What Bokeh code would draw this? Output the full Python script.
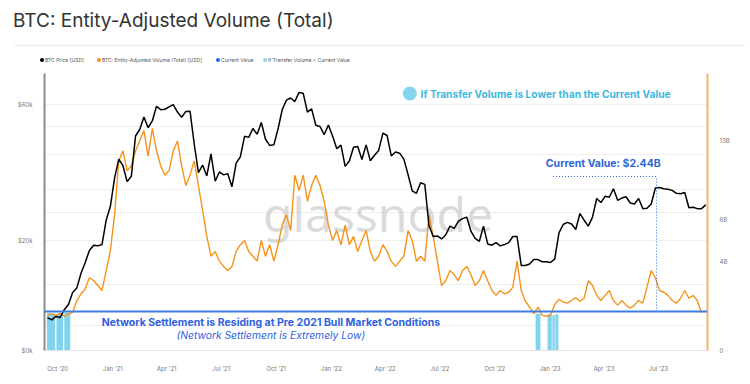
import pandas as pd
from bokeh.plotting import figure
from bokeh.layouts import column
from bokeh.models import (Range1d, LogScale, LogAxis, FixedTicker, MonthsTicker,
                          DatetimeTickFormatter, Span, Label, Div)
from bokeh.embed import file_html
from bokeh.resources import INLINE

# ---------------- data (weekly samples) ----------------
week_start = "2020-09-14"
btc_price_k = [
    10.7, 10.5, 10.8, 10.7, 11.4, 11.9, 13.1, 13.6, 15.3, 16.7, 18.4,
    19.2, 19.1, 19.3, 23.5, 26.3, 33.0, 38.5, 36.5, 32.1, 33.5,
    46.4, 48.9, 54.1, 49.6, 52.4, 59.0, 57.4, 57.6, 58.7, 59.8,
    56.3, 54.0, 56.6, 56.7, 43.5, 34.5, 36.7, 33.6, 40.2, 32.2,
    34.7, 33.9, 34.2, 30.8, 37.3, 39.2, 46.3, 45.9, 49.3, 47.1,
    51.8, 45.2, 43.0, 43.2, 49.2, 57.5, 62.0, 63.1, 61.3, 66.0,
    65.5, 56.3, 57.8, 50.6, 50.1, 46.9, 50.7, 46.4, 41.9, 43.1,
    36.3, 37.9, 42.4, 42.6, 38.4, 43.2, 38.0, 39.7, 41.3, 47.5,
    46.6, 39.5, 40.8, 40.4, 38.5, 34.0, 29.8, 29.2, 31.8, 31.4,
    22.5, 20.6, 20.7, 20.2, 20.9, 22.4, 22.0, 23.3, 23.8, 24.1,
    21.5, 20.3, 19.8, 22.4, 19.4, 19.2, 19.6, 19.1, 19.3, 19.6,
    20.6, 20.6, 16.3, 16.3, 16.5, 17.1, 17.1, 16.8, 16.8, 16.7,
    17.2, 21.2, 22.7, 23.1, 22.8, 21.8, 24.8, 23.5, 22.4, 24.1,
    28.0, 27.1, 28.5, 28.3, 30.3, 27.6, 28.1, 28.4, 27.0, 26.8,
    28.0, 25.8, 25.9, 26.8, 30.5, 30.6, 30.3, 30.2, 29.9, 29.2,
    29.1, 29.4, 26.0, 26.1, 25.8, 25.8, 26.6,
]
volume_b = [
    2.36, 2.38, 2.35, 2.40, 2.33, 2.38, 2.42, 2.72, 2.90, 3.05, 3.40,
    3.31, 3.15, 3.00, 3.65, 4.43, 6.30, 10.7, 11.8, 9.7, 10.2,
    11.8, 13.0, 14.4, 11.2, 14.7, 11.8, 10.2, 9.3, 9.7, 11.8,
    13.0, 10.2, 8.4, 9.3, 10.7, 8.4, 6.6, 5.1, 4.2, 4.4,
    4.0, 3.8, 3.65, 3.8, 4.4, 4.7, 4.9, 4.4, 4.2, 4.0,
    4.9, 4.2, 4.7, 4.0, 4.7, 5.7, 6.3, 5.4, 9.3, 8.0,
    9.3, 7.2, 8.4, 9.3, 8.4, 7.2, 5.7, 4.9, 5.4, 4.7,
    5.7, 4.7, 5.1, 4.4, 4.9, 5.4, 4.4, 4.0, 4.2, 4.7,
    4.4, 4.0, 3.8, 4.0, 4.2, 5.4, 4.9, 4.0, 4.2, 4.0,
    6.3, 5.1, 4.0, 3.15, 3.3, 3.65, 3.5, 3.3, 3.65, 3.8,
    3.5, 3.15, 3.3, 3.65, 3.3, 3.0, 2.86, 3.0, 2.90, 2.95,
    3.1, 4.0, 3.0, 2.70, 2.55, 2.39, 2.55, 2.35, 2.33, 2.36,
    2.62, 2.75, 2.68, 2.65, 2.72, 2.80, 2.70, 2.78, 3.3, 3.15,
    2.86, 2.72, 2.86, 3.0, 2.72, 2.6, 2.72, 2.6, 2.52, 2.6,
    2.72, 2.65, 3.1, 3.65, 3.4, 3.0, 2.95, 2.86, 2.72, 2.65,
    2.78, 3.0, 2.78, 2.86, 2.72, 2.41,
]
current_value_b = 2.44
current_value_date = "2023-06-28"

# periods where transfer volume < current value
low_start = ["2020-09-13", "2020-09-29", "2020-10-12", "2022-12-08", "2022-12-28",
             "2023-01-05", "2023-01-10"]
low_end = ["2020-09-27", "2020-10-10", "2020-10-22", "2022-12-16", "2023-01-04",
           "2023-01-09", "2023-01-15"]
low_top_b = [2.40, 2.39, 2.41, 2.39, 2.38, 2.36, 2.38]

price_ticks = [8200, 20000, 60000]
price_tick_labels = ["$0k", "$20k", "$60k"]
price_grid = [10000, 14000, 20000, 25000, 30000, 40000, 50000, 60000]
vol_ticks = [1666000000, 4000000000, 6000000000, 13000000000]
vol_tick_labels = ["0", "4B", "6B", "13B"]

title_text = "BTC: Entity-Adjusted Volume (Total)"
legend_labels = ["BTC Price [USD]", "BTC: Entity-Adjusted Volume (Total) [USD]",
                 "Current Value", "If Transfer Volume &lt; Current Value"]
legend_colors = ["#000000", "#f7931a", "#2d5fe0", "#86d5f0"]
legend_dot_x = [42, 99, 218, 265]

# ---------------- layout ----------------
dates = pd.date_range(week_start, periods=len(btc_price_k), freq="7D")
price = [v * 1000 for v in btc_price_k]
vol = [v * 1e9 for v in volume_b]


def ms(s):
    return pd.Timestamp(s).value / 1e6


FONT = "Inter"
W = 745

# header: title + legend row
legend_html = ""
for x, c, lab in zip(legend_dot_x, legend_colors, legend_labels):
    legend_html += (
        f'<span style="position:absolute;left:{x - 2}px;top:58px;width:4px;height:4px;'
        f'border-radius:50%;background:{c};"></span>'
        f'<span style="position:absolute;left:{x + 3}px;top:57px;font-size:5px;line-height:6px;'
        f'color:#555555;white-space:nowrap;">{lab}</span>'
    )
header_html = (
    f'<div style="position:relative;width:{W}px;height:73px;font-family:{FONT},sans-serif;'
    f'background:white;">'
    f'<span style="position:absolute;left:13px;top:8px;font-size:19px;line-height:26px;'
    f'color:#333333;white-space:nowrap;">{title_text}</span>'
    f'<span style="position:absolute;left:14px;top:45px;width:{W - 14}px;height:1px;'
    f'background:#ebebeb;"></span>'
    f'{legend_html}</div>'
)
header = Div(text=header_html, width=W, height=73, margin=0)

p = figure(width=W, height=307, x_axis_type="datetime", y_axis_type="log",
           x_range=Range1d(ms("2020-09-09"), ms("2023-09-21")),
           y_range=Range1d(8200, 76900),
           output_backend="svg", toolbar_location=None,
           min_border_left=44, min_border_right=W - 707, min_border_top=0, min_border_bottom=30,
           outline_line_color=None, background_fill_color="white", border_fill_color="white")
p.extra_y_ranges = {"vol": Range1d(1.666e9, 25.2e9)}
p.extra_y_scales = {"vol": LogScale()}

# axes
ly = p.yaxis[0]
ly.ticker = FixedTicker(ticks=price_ticks)
ly.major_label_overrides = dict(zip(price_ticks, price_tick_labels))
ly.axis_line_color = "#8c8c8c"
ly.axis_line_width = 2
ly.major_tick_line_color = None
ly.minor_tick_line_color = None
ly.major_label_text_font_size = "6px"
ly.major_label_text_color = "#777777"
ly.major_label_text_font = FONT
ly.major_label_standoff = 6

ry = LogAxis(y_range_name="vol", ticker=FixedTicker(ticks=vol_ticks),
             major_label_overrides=dict(zip(vol_ticks, vol_tick_labels)),
             axis_line_color="#f6b567", axis_line_width=2,
             major_tick_line_color=None, minor_tick_line_color=None,
             major_label_text_font_size="6px", major_label_text_color="#777777",
             major_label_text_font=FONT, major_label_standoff=6)
p.add_layout(ry, "right")

xa = p.xaxis[0]
xa.ticker = MonthsTicker(months=[0, 3, 6, 9])
xa.formatter = DatetimeTickFormatter(months="%b '%y", days="%b '%y", years="%b '%y")
xa.axis_line_color = "#e4e4e4"
xa.major_tick_line_color = None
xa.minor_tick_line_color = None
xa.major_label_text_font_size = "6px"
xa.major_label_text_color = "#777777"
xa.major_label_text_font = FONT
xa.major_label_standoff = 8

p.xgrid.grid_line_color = None
p.ygrid.ticker = FixedTicker(ticks=price_grid)
p.ygrid.grid_line_color = "#eeeeee"

# watermark
p.add_layout(Label(x=ms("2022-03-20"), y=24800, text="glassnode", text_align="center",
                   text_baseline="middle", text_font="Noto Sans", text_font_size="48px",
                   text_color="#c4c4c4", text_alpha=0.6, level="underlay"))

# cyan bars
p.quad(left=[ms(s) for s in low_start], right=[ms(s) for s in low_end],
       bottom=1.666e9, top=[v * 1e9 for v in low_top_b], y_range_name="vol",
       fill_color="#7fd3ec", line_color=None)

# series
p.line(dates, vol, y_range_name="vol", line_color="#f7931a", line_width=1.4)
p.add_layout(Span(location=current_value_b * 1e9, dimension="width", y_range_name="vol",
                  line_color="#3d7fe0", line_width=2))
p.line(dates, price, line_color="#000000", line_width=1.5)

# current value annotation
cv_top = 9.18e9
p.segment(x0=[ms(current_value_date)], y0=[current_value_b * 1e9], x1=[ms(current_value_date)],
          y1=[cv_top], y_range_name="vol", line_color="#2d67d6", line_width=1, line_dash="1 2")
p.segment(x0=[ms("2023-01-06")], y0=[cv_top], x1=[ms(current_value_date)], y1=[cv_top],
          y_range_name="vol", line_color="#2d67d6", line_width=1, line_dash="1 2")
p.add_layout(Label(x=ms("2023-03-31"), y=35200, text="Current Value: $2.44B",
                   text_align="center", text_baseline="bottom", text_font=FONT,
                   text_font_size="10.5px", text_font_style="bold", text_color="#2d67d6"))

# "If Transfer Volume ..." annotation
p.scatter(x=[ms("2022-05-12")], y=[65400], size=14, color="#86d5f0", line_color=None)
p.add_layout(Label(x=ms("2022-05-30"), y=65400,
                   text="If Transfer Volume is Lower than the Current Value",
                   text_align="left", text_baseline="middle", text_font=FONT,
                   text_font_size="10.2px", text_font_style="bold", text_color="#3cb9e2"))

# network settlement text
p.add_layout(Label(x=ms("2021-09-22"), y=10280,
                   text="Network Settlement is Residing at Pre 2021 Bull Market Conditions",
                   text_align="center", text_baseline="middle", text_font=FONT,
                   text_font_size="10.5px", text_font_style="bold", text_color="#2f5fe0"))
p.add_layout(Label(x=ms("2021-09-22"), y=9260, text="(Network Settlement is Extremely Low)",
                   text_align="center", text_baseline="middle", text_font=FONT,
                   text_font_size="10.3px", text_font_style="italic", text_color="#2f5fe0"))

layout = column(header, p, spacing=0)
open("out.html", "w").write(file_html(layout, INLINE))
